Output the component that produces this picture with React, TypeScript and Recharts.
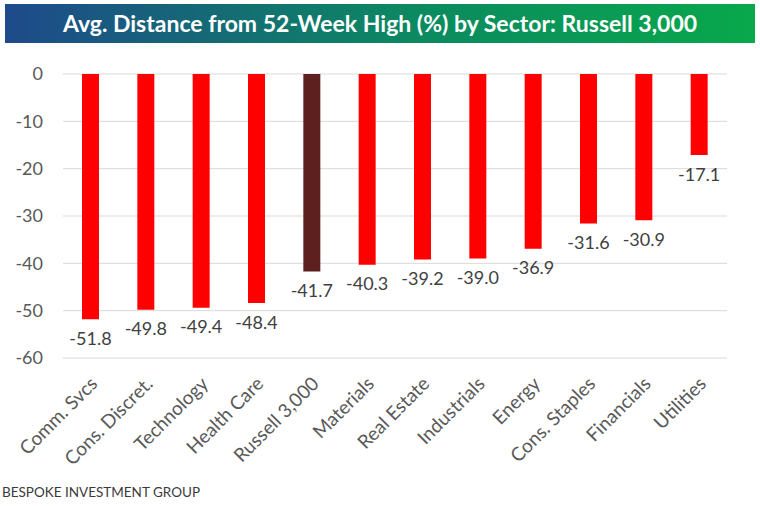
import React from "react";
import { BarChart, Bar, XAxis, YAxis, CartesianGrid, Cell, LabelList } from "recharts";

const sectors = [
  "Comm. Svcs",
  "Cons. Discret.",
  "Technology",
  "Health Care",
  "Russell 3,000",
  "Materials",
  "Real Estate",
  "Industrials",
  "Energy",
  "Cons. Staples",
  "Financials",
  "Utilities",
];
const distances = [-51.8, -49.8, -49.4, -48.4, -41.7, -40.3, -39.2, -39.0, -36.9, -31.6, -30.9, -17.1];
const yTicks = [0, -10, -20, -30, -40, -50, -60];

const RED = "#ff0000";
const INDEX_COLOR = "#5e1f1f";
const FONT = "Lato, 'Open Sans', sans-serif";

const data = sectors.map((name, i) => ({ name, value: distances[i] }));

function SectorTick(props: any) {
  const { x, y, payload } = props;
  return (
    <g transform={`translate(${x + 8},${y + 19})`}>
      <text
        x={0}
        y={0}
        textAnchor="end"
        transform="rotate(-45)"
        fill="#595959"
        fontSize={19}
        fontFamily={FONT}
      >
        {payload.value}
      </text>
    </g>
  );
}

function ValueLabel(props: any) {
  const { x, y, width, height, value } = props;
  const bottom = Math.max(y, y + height);
  return (
    <text
      x={x + width / 2}
      y={bottom + 21}
      textAnchor="middle"
      dominantBaseline="middle"
      fill="#404040"
      fontSize={18}
      fontFamily={FONT}
    >
      {value.toFixed(1)}
    </text>
  );
}

export default function App() {
  return (
    <div
      style={{
        position: "absolute",
        left: 0,
        top: 0,
        width: 760,
        height: 506,
        background: "#fff",
        overflow: "hidden",
      }}
    >
      <div
        style={{
          position: "absolute",
          left: 5,
          top: 4,
          width: 750,
          height: 39,
          background: "linear-gradient(to right, #1e4a8b, #0b8a60 55%, #08a84b)",
          color: "#fff",
          fontFamily: FONT,
          fontWeight: 700,
          fontSize: 23,
          lineHeight: "39px",
          textAlign: "center",
        }}
      >
        Avg. Distance from 52-Week High (%) by Sector: Russell 3,000
      </div>
      <div style={{ position: "absolute", left: 0, top: 0 }}>
        <BarChart
          width={760}
          height={506}
          data={data}
          margin={{ top: 74, right: 33, bottom: 0, left: 0 }}
        >
          <CartesianGrid vertical={false} stroke="#d9d9d9" />
          <XAxis
            dataKey="name"
            axisLine={false}
            tickLine={false}
            interval={0}
            height={148}
            tick={<SectorTick />}
          />
          <YAxis
            domain={[-60, 0]}
            ticks={yTicks}
            width={63}
            axisLine={false}
            tickLine={false}
            tickSize={0}
            tickMargin={20}
            tick={{ fill: "#595959", fontSize: 18, fontFamily: FONT }}
          />
          <Bar dataKey="value" barSize={17} isAnimationActive={false}>
            {data.map((d) => (
              <Cell key={d.name} fill={d.name === "Russell 3,000" ? INDEX_COLOR : RED} />
            ))}
            <LabelList dataKey="value" content={<ValueLabel />} />
          </Bar>
        </BarChart>
      </div>
      <div
        style={{
          position: "absolute",
          left: 2,
          top: 484,
          fontFamily: FONT,
          fontSize: 13.5,
          color: "#3a3a3a",
        }}
      >
        BESPOKE INVESTMENT GROUP
      </div>
    </div>
  );
}
